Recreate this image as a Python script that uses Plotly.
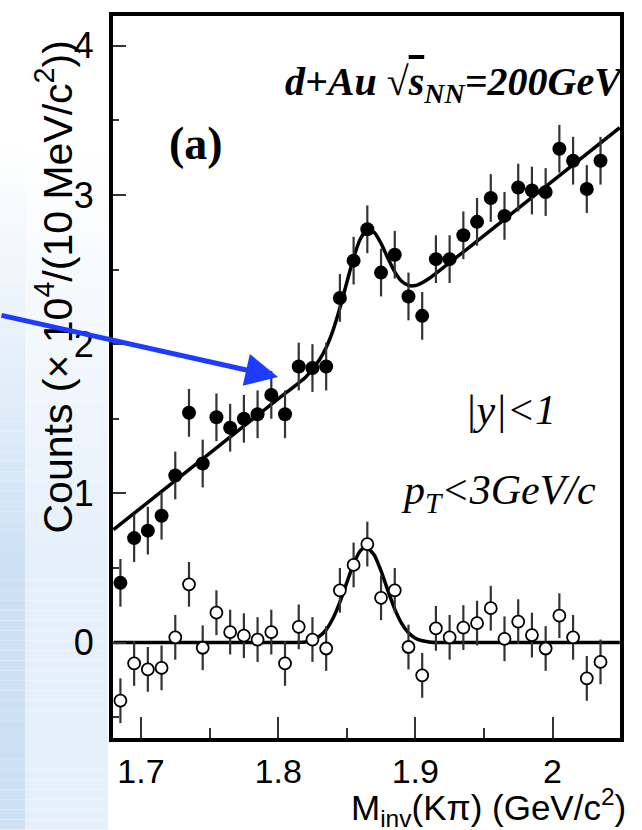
import plotly.graph_objects as go

# ---------------- data ----------------
mass = [1.685, 1.695, 1.705, 1.715, 1.725, 1.735, 1.745, 1.755, 1.765, 1.775,
        1.785, 1.795, 1.805, 1.815, 1.825, 1.835, 1.845, 1.855, 1.865, 1.875,
        1.885, 1.895, 1.905, 1.915, 1.925, 1.935, 1.945, 1.955, 1.965, 1.975,
        1.985, 1.995, 2.005, 2.015, 2.025, 2.035]

# unlike-sign K pi pairs (filled circles), counts x 10^4 / 10 MeV
same_event = [0.40, 0.70, 0.75, 0.85, 1.12, 1.54, 1.20, 1.51, 1.44, 1.50,
              1.53, 1.66, 1.53, 1.85, 1.84, 1.85, 2.31, 2.56, 2.77, 2.48,
              2.60, 2.32, 2.19, 2.57, 2.57, 2.73, 2.82, 2.98, 2.86, 3.05,
              3.03, 3.02, 3.31, 3.23, 3.04, 3.23]
same_event_err = [0.16, 0.16, 0.16, 0.16, 0.16, 0.16, 0.16, 0.16, 0.16, 0.16,
                  0.16, 0.16, 0.16, 0.16, 0.16, 0.16, 0.16, 0.16, 0.16, 0.16,
                  0.16, 0.16, 0.16, 0.16, 0.16, 0.16, 0.16, 0.16, 0.16, 0.16,
                  0.16, 0.16, 0.16, 0.16, 0.16, 0.16]

# background-subtracted (open circles)
subtracted = [-0.39, -0.14, -0.18, -0.17, 0.035, 0.39, -0.035, 0.20, 0.07, 0.046,
              0.02, 0.07, -0.14, 0.105, 0.02, -0.04, 0.35, 0.52, 0.66, 0.30,
              0.35, -0.03, -0.22, 0.095, 0.035, 0.10, 0.13, 0.23, 0.025, 0.14,
              0.05, -0.04, 0.18, 0.035, -0.24, -0.13]
subtracted_err = [0.15] * 36

# fit curves
fit_top_x = [1.680, 1.750, 1.800, 1.820, 1.825, 1.830, 1.835, 1.840, 1.845, 1.850,
             1.855, 1.860, 1.865, 1.870, 1.875, 1.880, 1.885, 1.890, 1.895, 1.900,
             1.905, 1.910, 1.950, 2.000, 2.049]
fit_top_y = [0.757, 1.268, 1.633, 1.779, 1.834, 1.894, 1.978, 2.093, 2.242, 2.412,
             2.580, 2.707, 2.767, 2.750, 2.676, 2.576, 2.485, 2.422, 2.394, 2.393,
             2.412, 2.440, 2.728, 3.093, 3.451]

fit_sig_x = [1.680, 1.800, 1.820, 1.825, 1.830, 1.835, 1.840, 1.845, 1.850, 1.855,
             1.860, 1.864, 1.870, 1.875, 1.880, 1.885, 1.890, 1.895, 1.900, 1.905,
             1.910, 1.915, 1.950, 2.049]
fit_sig_y = [0.0, 0.0, 0.004, 0.017, 0.041, 0.087, 0.163, 0.271, 0.401, 0.528,
             0.616, 0.640, 0.587, 0.480, 0.348, 0.224, 0.128, 0.065, 0.029, 0.012,
             0.004, 0.0, 0.0, 0.0]

x_ticks = [1.7, 1.8, 1.9, 2.0]
x_tick_text = ["1.7", "1.8", "1.9", "2"]
y_ticks = [0, 1, 2, 3, 4]
y_tick_text = ["0", "1", "2", "3", "4"]

# ---------------- layout geometry ----------------
W, H = 642, 830
ML, MR, MT, MB = 113, 22, 12, 92
PW, PH = W - ML - MR, H - MT - MB


def px_x(px):
    return (px - ML) / PW


def px_y(py):
    return (H - MB - py) / PH


SANS = "Liberation Sans, Arial, Helvetica, sans-serif"
SERIF = "Liberation Serif, Times New Roman, serif"

fig = go.Figure()

fig.add_trace(go.Scatter(
    x=fit_sig_x, y=fit_sig_y, mode="lines",
    line=dict(color="black", width=3.5, shape="spline", smoothing=0.6),
    hoverinfo="skip", showlegend=False))
fig.add_trace(go.Scatter(
    x=fit_top_x, y=fit_top_y, mode="lines",
    line=dict(color="black", width=3.5, shape="spline", smoothing=0.6),
    hoverinfo="skip", showlegend=False))

fig.add_trace(go.Scatter(
    x=mass, y=subtracted, mode="markers",
    marker=dict(symbol="circle", size=12, color="white",
                line=dict(color="black", width=1.8)),
    error_y=dict(type="data", array=subtracted_err, color="#333333",
                 thickness=2.2, width=0),
    showlegend=False))
fig.add_trace(go.Scatter(
    x=mass, y=same_event, mode="markers",
    marker=dict(symbol="circle", size=14, color="black"),
    error_y=dict(type="data", array=same_event_err, color="#333333",
                 thickness=2.2, width=0),
    showlegend=False))


# slide-background gradient on the left (opaque bands, no overlap)
def mix(c, t):
    return "rgb(%d,%d,%d)" % tuple(round(255 + (v - 255) * t) for v in c)


strip_a = (206, 225, 244)
strip_b = (230, 240, 250)
shapes = []
band = 10
y0 = 130
while y0 < H:
    t = min(1.0, max(0.0, (y0 - 130) / 420.0))
    for (xa, xb, col) in ((0, 25, strip_a), (25, 108, strip_b)):
        shapes.append(dict(type="rect", xref="paper", yref="paper",
                           x0=px_x(xa), x1=px_x(xb),
                           y0=px_y(min(H, y0 + band)), y1=px_y(y0),
                           fillcolor=mix(col, t), line=dict(width=0),
                           layer="below"))
    y0 += band

annotations = [
    # axis titles
    dict(text="Counts (× 10<sup>4</sup>/(10 MeV/c<sup>2</sup>))",
         xref="paper", yref="paper", x=px_x(55), y=px_y(285),
         textangle=-90, showarrow=False, xanchor="center", yanchor="middle",
         font=dict(family=SANS, size=41, color="black")),
    dict(text="M<sub>inv</sub>(Kπ) (GeV/c<sup>2</sup>)",
         xref="paper", yref="paper", x=px_x(628), y=px_y(808),
         showarrow=False, xanchor="right", yanchor="middle",
         font=dict(family=SANS, size=35, color="black")),
    # labels in the frame
    dict(text="<b><i>d+Au </i>√<i><span style='text-decoration:overline'>s</span><sub>NN</sub>=200GeV</i></b>",
         xref="paper", yref="paper", x=px_x(626), y=px_y(80),
         showarrow=False, xanchor="right", yanchor="middle",
         font=dict(family=SERIF, size=40, color="black")),
    dict(text="<b>(a)</b>", xref="paper", yref="paper", x=px_x(196), y=px_y(140),
         showarrow=False, xanchor="center", yanchor="middle",
         font=dict(family=SERIF, size=46, color="black")),
    dict(text="<i>|y|&lt;1</i>", xref="paper", yref="paper", x=px_x(510), y=px_y(408),
         showarrow=False, xanchor="center", yanchor="middle",
         font=dict(family=SERIF, size=42, color="black")),
    dict(text="<i>p<sub>T</sub>&lt;3GeV/c</i>", xref="paper", yref="paper",
         x=px_x(498), y=px_y(492), showarrow=False, xanchor="center", yanchor="middle",
         font=dict(family=SERIF, size=42, color="black")),
    # blue arrow
    dict(text="", xref="paper", yref="paper", x=px_x(278), y=px_y(375),
         ax=-278, ay=-62, showarrow=True, arrowhead=2, arrowsize=1.3,
         arrowwidth=5, arrowcolor="#1e3cff"),
]

fig.update_layout(
    width=W, height=H,
    margin=dict(l=ML, r=MR, t=MT, b=MB),
    paper_bgcolor="white", plot_bgcolor="white",
    shapes=shapes, annotations=annotations,
    showlegend=False,
    xaxis=dict(range=[1.6796, 2.0492], tickvals=x_ticks, ticktext=x_tick_text,
               ticks="inside", ticklen=21, tickwidth=2, tickcolor="#333333",
               minor=dict(ticks="inside", dtick=0.05, tick0=1.7, ticklen=10,
                          tickwidth=2, tickcolor="#333333"),
               showline=True, linewidth=4, linecolor="black", mirror=True,
               showgrid=False, zeroline=False,
               tickfont=dict(family=SANS, size=34, color="black")),
    yaxis=dict(range=[-0.64, 4.2], tickvals=y_ticks, ticktext=y_tick_text,
               ticks="inside", ticklen=13, tickwidth=2, tickcolor="#333333",
               minor=dict(ticks="inside", dtick=0.5, tick0=0, ticklen=6,
                          tickwidth=2, tickcolor="#333333"),
               showline=True, linewidth=4, linecolor="black", mirror=True,
               showgrid=False, zeroline=False, ticklabelstandoff=8,
               tickfont=dict(family=SANS, size=36, color="black")),
)

fig.write_html("out.html")
